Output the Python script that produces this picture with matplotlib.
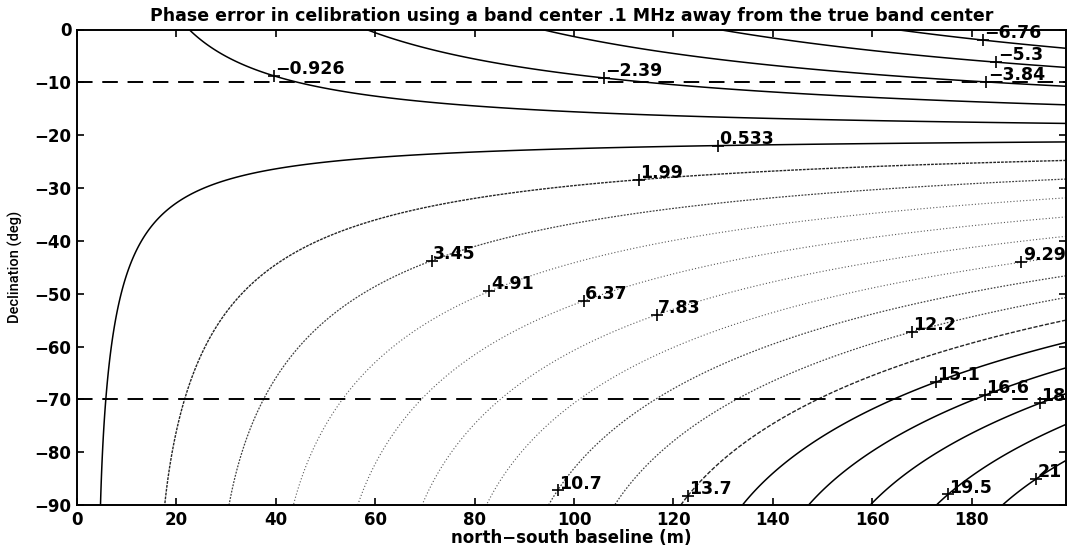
import numpy as np
import matplotlib
matplotlib.use('Agg')
import matplotlib.pyplot as plt

# band-centre offset used for calibration and site latitude
offset_hz = 0.1e6
latitude = -20.0
c_light = 3.0e8

# grid of north-south baselines (m) and declinations (deg)
baseline = np.arange(0, 200)
declination = np.linspace(-90, 0, 361)

# contour levels (deg of phase), as labelled
levels = [-6.76, -5.3, -3.84, -2.39, -0.926, 0.533, 1.99, 3.45, 4.91,
          6.37, 7.83, 9.29, 10.7, 12.2, 13.7, 15.1, 16.6, 18, 19.5, 21]

# rough spots where each level gets its '+' label (baseline m, dec deg)
label_b = [182.4, 184.9, 183.0, 106.2, 39.6, 129.4, 112.8, 71.4, 83.0,
           102.0, 116.6, 189.5, 98.0, 167.6, 123.6, 172.7, 182.8, 193.5,
           176.2, 193.3]
label_dec = [-2.6, -5.6, -10.4, -9.1, -9.0, -21.4, -29.0, -43.9, -49.8,
             -51.4, -54.3, -43.2, -87.9, -57.5, -88.8, -67.4, -69.9, -70.2,
             -88.8, -85.6]

# declinations of the observing limits
limit_decs = [-10, -70]

B, D = np.meshgrid(baseline, declination)
# delay error along a N-S baseline for a source on the meridian
phase = 360.0 * offset_hz / c_light * B * np.sin(np.radians(latitude - D))


def line_style(t):
    # mimic a colour contour printed in black and white
    if t < 0.28 or t > 0.77:
        return 'k', 1.1, '-'
    if t < 0.34:
        return '0.15', 1.0, (0, (2.0, 0.8))
    if t < 0.40:
        return '0.25', 0.9, (0, (1.5, 1.1))
    if t < 0.615:
        return '0.35', 0.8, (0, (1.0, 1.9))
    if t < 0.70:
        return '0.25', 0.9, (0, (1.3, 1.3))
    return '0.15', 1.0, (0, (3.0, 1.2))


fig = plt.figure(figsize=(10.76, 5.45), dpi=100)
ax = fig.add_axes([77 / 1076, 40 / 545, (1066 - 77) / 1076, (505 - 29.5) / 545])

lo, hi = min(levels), max(levels)
for lev, lb, ld in zip(levels, label_b, label_dec):
    col, lw, ls = line_style((lev - lo) / (hi - lo))
    cs = ax.contour(B, D, phase, levels=[lev], colors=col, linewidths=lw)
    cs.set_linestyle(ls)
    # snap the label onto the nearest point of its contour
    verts = np.vstack([p.vertices for p in cs.get_paths() if len(p.vertices)])
    d = ((verts[:, 0] - lb) * 4.955) ** 2 + ((verts[:, 1] - ld) * 5.26) ** 2
    px, py = verts[np.argmin(d)]
    ax.plot(px, py, '+', color='k', ms=9, mew=1.2, clip_on=True)
    txt = ('%.3g' % lev).replace('-', '\u2212')
    ax.annotate(txt, (px, py), xytext=(1.0, -1.5),
                textcoords='offset points', ha='left', va='bottom',
                fontsize=12.5, fontweight='bold', annotation_clip=False)

for yd in limit_decs:
    ax.axhline(yd, color='k', lw=1.4, ls=(0, (8, 5)))

ax.set_xlim(0, 199)
ax.set_ylim(-90, 0)
ax.set_xticks(np.arange(0, 181, 20))
ax.set_yticks(np.arange(-90, 1, 10))
ax.tick_params(direction='in', length=5, width=1.2, top=True, right=True,
               labelsize=12, pad=4)
for lab in ax.get_xticklabels() + ax.get_yticklabels():
    lab.set_fontweight('bold')
for sp in ax.spines.values():
    sp.set_linewidth(1.4)

ax.set_title('Phase error in celibration using a band center .1 MHz away '
             'from the true band center', fontsize=12.5, fontweight='bold',
             pad=6)
ax.set_xlabel('north\u2212south baseline (m)', fontsize=12,
              fontweight='bold', labelpad=0)
ax.set_ylabel('Declination (deg)', fontsize=10.5, family='Roboto',
              fontweight='medium')
ax.yaxis.set_label_coords(-0.055, 0.5)

fig.savefig('out.png', dpi=100)
